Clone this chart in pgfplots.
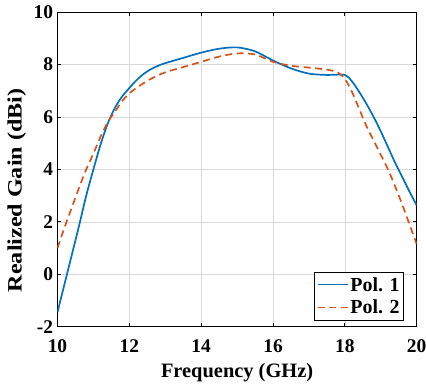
\documentclass[border=0pt]{standalone}
\usepackage{pgfplots}
\pgfplotsset{compat=1.18}
\usepackage{fontspec}
\setmainfont{Liberation Serif}
\definecolor{mblue}{rgb}{0,0.447,0.741}
\definecolor{morange}{rgb}{0.85,0.325,0.098}
\begin{document}
\begin{tikzpicture}
\path[use as bounding box] (-57.5bp,-59.3bp) rectangle (368.5bp,326.7bp);
\begin{axis}[
  at={(0,0)}, anchor=south west,
  width=359.2bp, height=314.7bp, scale only axis,
  xmin=10, xmax=20, ymin=-2, ymax=10,
  xtick={10,12,...,20}, ytick={-2,0,...,10},
  grid=major,
  major grid style={draw=gray!30, line width=0.6pt},
  axis line style={line width=0.9pt},
  tick style={black, line width=0.8pt},
  tick align=inside,
  major tick length=4bp,
  tick label style={font=\fontsize{19.5}{19.5}\selectfont\bfseries},
  xticklabel style={yshift=-9bp},
  yticklabel style={xshift=-1bp},
  /pgf/number format/assume math mode=true,
  xlabel={Frequency (GHz)},
  ylabel={\scalebox{1.18}[1]{Realized Gain (dBi)}},
  label style={font=\fontsize{20.5}{20.5}\selectfont\bfseries},
  xlabel style={at={(0.5,0)}, anchor=north, yshift=-33bp},
  ylabel style={at={(0,0.5)}, anchor=south, yshift=28bp, xshift=-21bp},
  legend style={at={(0.965,0.02)}, anchor=south east,
    font=\fontsize{20}{20}\selectfont\bfseries, draw=black, line width=0.9pt,
    inner xsep=2pt, inner ysep=2.5pt, row sep=3.6pt},
  legend cell align=left,
  legend image code/.code={\draw[#1, line width=1.6pt] (0bp,0.3bp) -- (30bp,0.3bp);},
]
\addplot[mblue, line width=1.7pt, smooth] coordinates {
(10,-1.45) (10.2,-0.35) (10.4,0.75) (10.6,1.85) (10.8,3.0) (11.0,4.0)
(11.2,4.95) (11.4,5.75) (11.6,6.35) (11.8,6.78) (12.0,7.1) (12.2,7.4)
(12.4,7.64) (12.6,7.82) (12.8,7.95) (13.0,8.05) (13.5,8.25) (14.0,8.45)
(14.5,8.6) (15.0,8.65) (15.5,8.5) (16.0,8.15) (16.5,7.85) (17.0,7.65)
(17.5,7.6) (18.0,7.6) (18.2,7.35) (18.4,6.95) (18.6,6.5) (18.8,6.0)
(19.0,5.45) (19.2,4.85) (19.4,4.25) (19.6,3.7) (19.8,3.15) (20.0,2.63)
};
\addlegendentry{Pol. 1}
\addplot[morange, line width=1.7pt, dash pattern=on 7bp off 4.5bp, smooth] coordinates {
(10,1.0) (10.2,1.8) (10.4,2.55) (10.6,3.3) (10.8,4.0) (11.0,4.6)
(11.2,5.25) (11.4,5.8) (11.6,6.2) (11.8,6.6) (12.0,6.9) (12.3,7.2)
(12.6,7.45) (13.0,7.7) (13.5,7.9) (14.0,8.1) (14.5,8.3) (15.0,8.42)
(15.5,8.38) (16.0,8.1) (16.5,7.95) (17.0,7.88) (17.5,7.8) (17.8,7.7)
(18.0,7.45) (18.2,6.95) (18.4,6.3) (18.6,5.65) (18.8,5.1) (19.0,4.55)
(19.2,4.0) (19.4,3.35) (19.6,2.65) (19.8,1.9) (20.0,1.15)
};
\addlegendentry{Pol. 2}
\end{axis}
\end{tikzpicture}
\end{document}
